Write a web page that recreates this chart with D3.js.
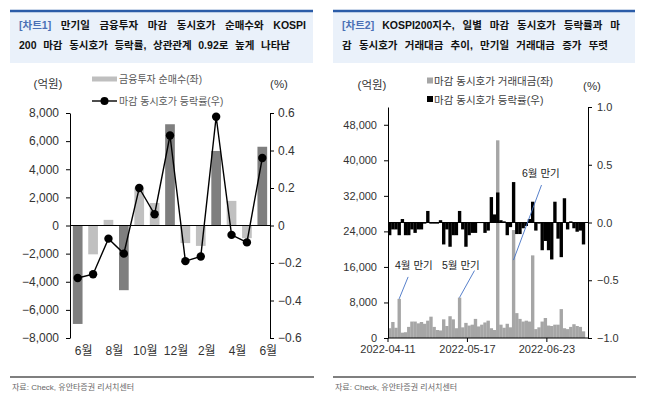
<!DOCTYPE html>
<html>
<head>
<meta charset="utf-8">
<script src="https://cdn.jsdelivr.net/npm/d3@7"></script>
<style>
  body { margin: 0; background: #fff; }
  svg { display: block; font-family: "Liberation Sans", "Noto Sans CJK KR", sans-serif; }
</style>
</head>
<body>
<svg id="chart" width="650" height="405"></svg>
<script>
// ---- chart 1 data: monthly expiry days ----
var months = ["2021-06","2021-07","2021-08","2021-09","2021-10","2021-11","2021-12",
              "2022-01","2022-02","2022-03","2022-04","2022-05","2022-06"];
var netBuy = [-7000, -2050, 400, -4600, 2700, 1600, 7200, -1250, -1450, 5300, 1750, -900, 5600];
var closeChg = [-0.28, -0.26, -0.07, -0.15, 0.20, 0.06, 0.48, -0.19, -0.165, 0.58, -0.05, -0.09, 0.36];
var monthTickCats = ["2021-06","2021-08","2021-10","2021-12","2022-02","2022-04","2022-06"];
var monthTickLabels = ["6월","8월","10월","12월","2월","4월","6월"];
var leftTicks1 = [-8000,-6000,-4000,-2000,0,2000,4000,6000,8000];
var rightTicks1 = [-0.6,-0.4,-0.2,0,0.2,0.4,0.6];

// ---- chart 2 data: daily ----
var tradeDates = ["2022-04-11","2022-04-12","2022-04-13","2022-04-14","2022-04-15","2022-04-18","2022-04-19","2022-04-20","2022-04-21","2022-04-22",
  "2022-04-25","2022-04-26","2022-04-27","2022-04-28","2022-04-29","2022-05-02","2022-05-03","2022-05-04","2022-05-06","2022-05-09",
  "2022-05-10","2022-05-11","2022-05-12","2022-05-13","2022-05-16","2022-05-17","2022-05-18","2022-05-19","2022-05-20","2022-05-23",
  "2022-05-24","2022-05-25","2022-05-26","2022-05-27","2022-05-30","2022-05-31","2022-06-02","2022-06-03","2022-06-07","2022-06-08",
  "2022-06-09","2022-06-10","2022-06-13","2022-06-14","2022-06-15","2022-06-16","2022-06-17","2022-06-20","2022-06-21","2022-06-22",
  "2022-06-23","2022-06-24","2022-06-27","2022-06-28","2022-06-29","2022-06-30","2022-07-01","2022-07-04","2022-07-05","2022-07-06",
  "2022-07-07","2022-07-08"];
var tradeValue = [2200,3600,2300,8800,1200,1300,2500,3700,3700,3300,
  3600,3200,3900,4800,2500,1800,1700,4200,2700,4900,
  4200,2200,9100,2400,3400,2800,3000,4300,2600,3000,
  3500,3900,2200,1800,44500,3000,2300,3200,2400,24300,
  5600,4300,3700,3900,3700,18600,2000,2400,3700,4500,
  2800,2700,3000,3000,6500,2200,2000,2500,3100,2700,
  2500,1500];
var dailyChg = [-0.11,-0.06,-0.06,-0.11,0.03,-0.11,-0.11,-0.06,-0.09,-0.06,
  -0.06,-0.01,0.10,-0.01,-0.01,-0.01,0.02,-0.19,-0.06,-0.21,
  -0.11,-0.11,0.10,-0.06,-0.21,-0.11,-0.09,-0.09,-0.005,-0.005,
  -0.09,-0.07,0.22,0.07,0.26,0.02,0.01,-0.11,-0.04,0.35,
  -0.10,-0.10,-0.05,-0.03,0.03,0.18,-0.07,-0.01,-0.24,-0.16,
  -0.24,-0.32,0.18,-0.14,-0.30,0.21,-0.06,0.01,-0.05,-0.08,
  -0.07,-0.19];
var dateTicks = ["2022-04-11","2022-05-17","2022-06-23"];
var leftTicks2 = [0,8000,16000,24000,32000,40000,48000];
var rightTicks2 = [-1,-0.5,0,0.5,1];
var expiryLabels = ["4월 만기","5월 만기","6월 만기"];
var expiryDates = ["2022-04-14","2022-05-12","2022-06-08"];

var svg = d3.select("#chart");
svg.append("rect").attr("width", 650).attr("height", 405).attr("fill", "#fff");

// ---------- headers ----------
function header(x0, x1, tag, line1, line2, end1, end2) {
    svg.append("rect").attr("x", x0).attr("y", 11).attr("width", x1 - x0).attr("height", 52)
        .attr("fill", "#eaf1fa");
    svg.append("line").attr("x1", x0).attr("x2", x1).attr("y1", 11).attr("y2", 11)
        .attr("stroke", "#2b5ca8").attr("stroke-width", 2.5);
    var t1 = svg.append("text").attr("x", x0 + 9).attr("y", 29)
        .attr("font-size", "10.5px").attr("font-weight", "bold").attr("fill", "#111");
    t1.append("tspan").attr("fill", "#4a70b5").text(tag);
    t1.append("tspan").text(" " + line1);
    var t2 = svg.append("text").attr("x", x0 + 9).attr("y", 49)
        .attr("font-size", "10.5px").attr("font-weight", "bold").attr("fill", "#111")
        .text(line2);
    // spread words like the justified original
    [[t1, end1], [t2, end2]].forEach(function (p) {
        var node = p[0].node();
        var len = node.getComputedTextLength();
        var gaps = (node.textContent.match(/ /g) || []).length;
        if (gaps > 0) {
            p[0].attr("word-spacing", ((p[1] - (x0 + 9) - len) / gaps) + "px");
        }
    });
}
header(10, 313, "[차트1]", "만기일 금융투자 마감 동시호가 순매수와 KOSPI",
       "200 마감 동시호가 등락률, 상관관계 0.92로 높게 나타남", 306, 290);
header(333, 635, "[차트2]", "KOSPI200지수, 일별 마감 동시호가 등락률과 마",
       "감 동시호가 거래대금 추이, 만기일 거래대금 증가 뚜렷", 620, 608);

// ---------- chart 1 ----------
var x1 = d3.scaleBand().domain(months).range([70, 270]).paddingInner(0.37).paddingOuter(0.185);
var yL1 = d3.scaleLinear().domain([-8000, 8000]).range([338, 113]);
var yR1 = d3.scaleLinear().domain([-0.6, 0.6]).range([338, 113]);

svg.append("g").selectAll("rect").data(netBuy).join("rect")
    .attr("x", function (d, i) { return x1(months[i]); })
    .attr("width", x1.bandwidth())
    .attr("y", function (d) { return Math.min(yL1(d), yL1(0)); })
    .attr("height", function (d) { return Math.abs(yL1(d) - yL1(0)); })
    .attr("fill", function (d, i) {
        var m = +months[i].slice(5);
        return m % 3 === 0 ? "#7f7f7f" : "#c0c0c0";
    });

svg.append("line").attr("x1", 70).attr("x2", 270)
    .attr("y1", yL1(0)).attr("y2", yL1(0)).attr("stroke", "#000").attr("stroke-width", 1);

var line1 = d3.line()
    .x(function (d, i) { return x1(months[i]) + x1.bandwidth() / 2; })
    .y(function (d) { return yR1(d); });
svg.append("path").datum(closeChg).attr("d", line1)
    .attr("fill", "none").attr("stroke", "#000").attr("stroke-width", 1.4);
svg.append("g").selectAll("circle").data(closeChg).join("circle")
    .attr("cx", function (d, i) { return x1(months[i]) + x1.bandwidth() / 2; })
    .attr("cy", function (d) { return yR1(d); })
    .attr("r", 4.2).attr("fill", "#000");

function styleAxis(g, size) {
    g.select(".domain").attr("stroke", "#000");
    g.selectAll(".tick line").attr("stroke", "#000");
    g.selectAll("text").attr("font-size", size).attr("fill", "#333")
        .attr("font-family", "\"Liberation Sans\", \"Noto Sans CJK KR\", sans-serif");
}

svg.append("g").attr("transform", "translate(70,0)")
    .call(d3.axisLeft(yL1).tickValues(leftTicks1).tickSize(4).tickSizeOuter(0).tickPadding(7)
        .tickFormat(d3.format(",")))
    .call(styleAxis, "12px");
svg.append("g").attr("transform", "translate(270,0)")
    .call(d3.axisRight(yR1).tickValues(rightTicks1).tickSize(4).tickSizeOuter(0).tickPadding(4)
        .tickFormat(function (d) { return d === 0 ? "0" : d3.format(".1f")(d); }))
    .call(styleAxis, "12px");

svg.append("g").selectAll("text").data(monthTickLabels).join("text")
    .attr("x", function (d, i) { return x1(monthTickCats[i]) + x1.bandwidth() / 2 + 6; })
    .attr("y", 355).attr("text-anchor", "middle")
    .attr("font-size", "12px").attr("fill", "#333").text(function (d) { return d; });

svg.append("text").attr("x", 48).attr("y", 88).attr("text-anchor", "middle")
    .attr("font-size", "11.5px").attr("fill", "#333").text("(억원)");
svg.append("text").attr("x", 279).attr("y", 88).attr("text-anchor", "middle")
    .attr("font-size", "11.5px").attr("fill", "#333").text("(%)");

// legend 1
svg.append("rect").attr("x", 92).attr("y", 76.5).attr("width", 25).attr("height", 5).attr("fill", "#bfbfbf");
svg.append("text").attr("x", 119).attr("y", 83).attr("font-size", "10px").attr("fill", "#595959")
    .text("금융투자 순매수(좌)");
svg.append("line").attr("x1", 92).attr("x2", 117).attr("y1", 101).attr("y2", 101)
    .attr("stroke", "#000").attr("stroke-width", 1.4);
svg.append("circle").attr("cx", 104.5).attr("cy", 101).attr("r", 4).attr("fill", "#000");
svg.append("text").attr("x", 119).attr("y", 105).attr("font-size", "10px").attr("fill", "#595959")
    .text("마감 동시호가 등락률(우)");

// ---------- chart 2 ----------
var x2 = d3.scaleBand().domain(tradeDates).range([388, 585]).padding(0);
var yL2 = d3.scaleLinear().domain([0, 52000]).range([338, 107]);
var yR2 = d3.scaleLinear().domain([-1, 1]).range([338, 107]);

svg.append("g").selectAll("rect").data(tradeValue).join("rect")
    .attr("x", function (d, i) { return x2(tradeDates[i]); })
    .attr("width", x2.bandwidth() + 0.2)
    .attr("y", function (d) { return yL2(d); })
    .attr("height", function (d) { return yL2(0) - yL2(d); })
    .attr("fill", "#a6a6a6");

svg.append("line").attr("x1", 388).attr("x2", 588)
    .attr("y1", yR2(0)).attr("y2", yR2(0)).attr("stroke", "#000").attr("stroke-width", 1);

svg.append("g").selectAll("rect").data(dailyChg).join("rect")
    .attr("x", function (d, i) { return x2(tradeDates[i]); })
    .attr("width", x2.bandwidth() + 0.2)
    .attr("y", function (d) { return Math.min(yR2(d), yR2(0)); })
    .attr("height", function (d) { return Math.abs(yR2(d) - yR2(0)); })
    .attr("fill", "#000");

svg.append("g").attr("transform", "translate(388,0)")
    .call(d3.axisLeft(yL2).tickValues(leftTicks2).tickSize(4).tickSizeOuter(0).tickPadding(7)
        .tickFormat(d3.format(",")))
    .call(styleAxis, "11px");
svg.append("g").attr("transform", "translate(588,0)")
    .call(d3.axisRight(yR2).tickValues(rightTicks2).tickSize(4).tickSizeOuter(0).tickPadding(5)
        .tickFormat(d3.format(".1f")))
    .call(styleAxis, "11px");

// bottom date axis, labels at category edges
svg.append("line").attr("x1", 388).attr("x2", 588).attr("y1", 338).attr("y2", 338)
    .attr("stroke", "#000");
var dt = svg.append("g").selectAll("g").data(dateTicks).join("g")
    .attr("transform", function (d) { return "translate(" + x2(d) + ",338)"; });
dt.append("line").attr("y2", 4).attr("stroke", "#000");
dt.append("text").attr("y", 15).attr("text-anchor", "middle")
    .attr("font-size", "11px").attr("fill", "#333").text(function (d) { return d; });

svg.append("text").attr("x", 372).attr("y", 89).attr("text-anchor", "middle")
    .attr("font-size", "11.5px").attr("fill", "#333").text("(억원)");
svg.append("text").attr("x", 592).attr("y", 90).attr("text-anchor", "middle")
    .attr("font-size", "11.5px").attr("fill", "#333").text("(%)");

// legend 2
svg.append("rect").attr("x", 427).attr("y", 77.5).attr("width", 6).attr("height", 6).attr("fill", "#a6a6a6");
svg.append("text").attr("x", 434).attr("y", 85).attr("font-size", "10.5px").attr("fill", "#404040")
    .text("마감 동시호가 거래대금(좌)");
svg.append("rect").attr("x", 427).attr("y", 96).attr("width", 6).attr("height", 6).attr("fill", "#000");
svg.append("text").attr("x", 434).attr("y", 103.5).attr("font-size", "10.5px").attr("fill", "#404040")
    .text("마감 동시호가 등락률(우)");

// expiry annotations
var annoLayout = [
    { tx: 395, ty: 269, from: 0, dx: 9, dy: -22 },
    { tx: 442, ty: 269, from: 0, dx: 15, dy: -27 },
    { tx: 522, ty: 177, from: 30, dx: 28, dy: -75 }
];
expiryLabels.forEach(function (lab, i) {
    var k = tradeDates.indexOf(expiryDates[i]);
    var cx = x2(tradeDates[k]) + x2.bandwidth() / 2;
    var cy = yL2(tradeValue[k]) + annoLayout[i].from;
    svg.append("line").attr("x1", cx).attr("y1", cy)
        .attr("x2", cx + annoLayout[i].dx).attr("y2", cy + annoLayout[i].dy)
        .attr("stroke", "#4472c4").attr("stroke-width", 0.9);
    svg.append("text").attr("x", annoLayout[i].tx).attr("y", annoLayout[i].ty)
        .attr("font-size", "10.5px").attr("fill", "#222").text(lab);
});

// ---------- footers ----------
[[10, 314], [333, 636]].forEach(function (p) {
    svg.append("line").attr("x1", p[0]).attr("x2", p[1]).attr("y1", 377).attr("y2", 377)
        .attr("stroke", "#000").attr("stroke-width", 1.2);
    svg.append("text").attr("x", p[0] + 2).attr("y", 390).attr("font-size", "8px").attr("fill", "#666")
        .text("자료: Check, 유안타증권 리서치센터");
});
</script>
</body>
</html>
